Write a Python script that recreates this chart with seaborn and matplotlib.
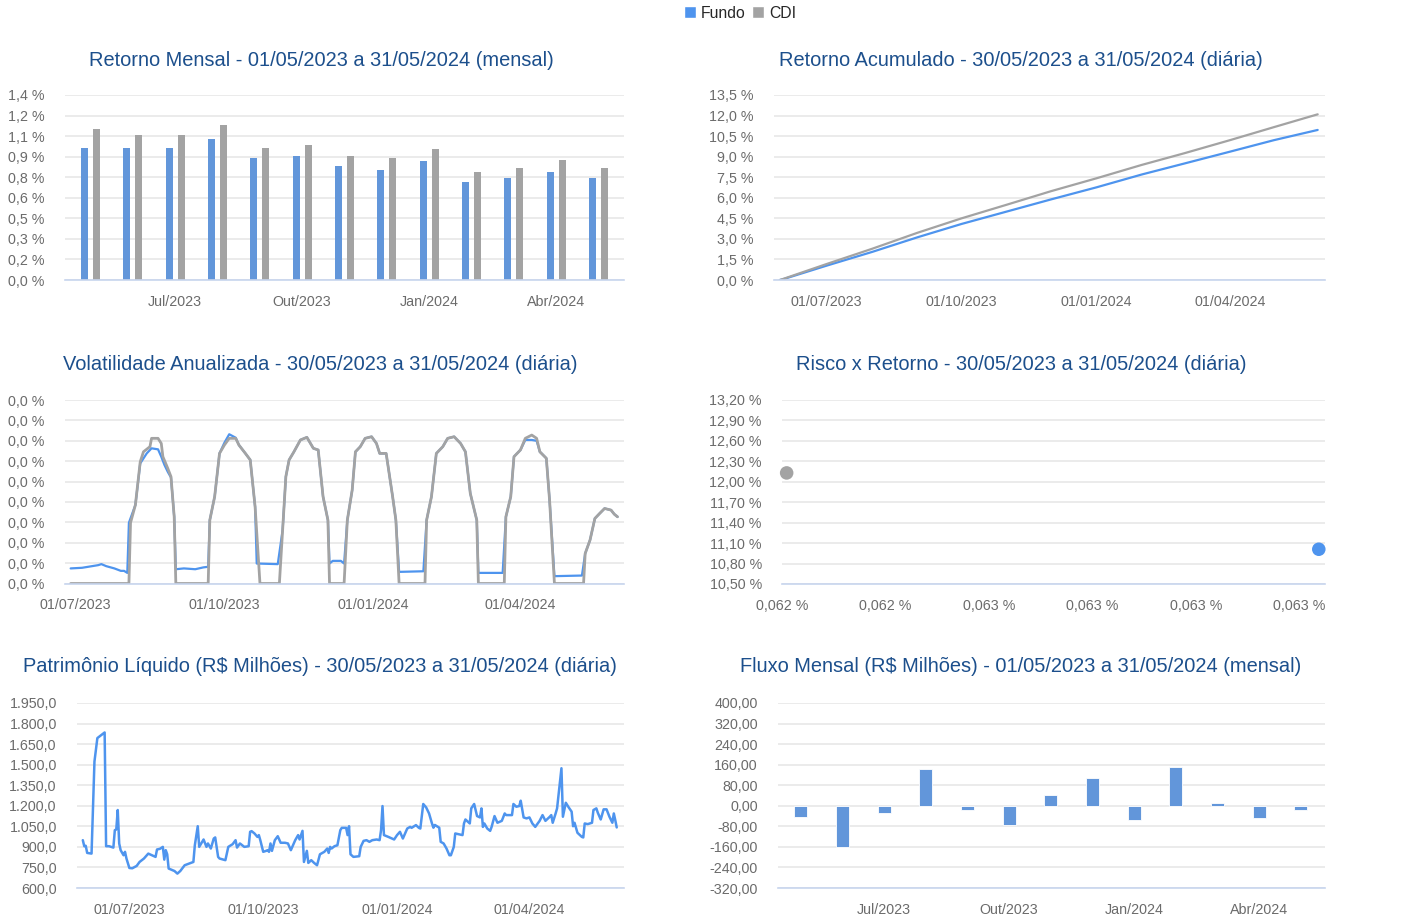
import numpy as np
import pandas as pd
import matplotlib.pyplot as plt
from matplotlib.patches import Patch
from matplotlib.ticker import FuncFormatter
import matplotlib.dates as mdates
import seaborn as sns

sns.set_style("white")
plt.rcParams["font.family"] = ["Liberation Sans", "DejaVu Sans"]

AZUL = "#4e94ee"
CINZA = "#a3a3a3"
COR_TITULO = "#1c4f8c"
COR_TEXTO = "#6b6b6b"
COR_EIXO = "#c7d5ee"

# ------------------------------------------------------------
# dados
# ------------------------------------------------------------
meses = ["05/2023", "06/2023", "07/2023", "08/2023", "09/2023", "10/2023", "11/2023",
         "12/2023", "01/2024", "02/2024", "03/2024", "04/2024", "05/2024"]
marcas_meses = ["07/2023", "10/2023", "01/2024", "04/2024"]
rotulos_meses = ["Jul/2023", "Out/2023", "Jan/2024", "Abr/2024"]

ret_fundo = [1.00, 1.00, 1.00, 1.07, 0.92, 0.94, 0.86, 0.83, 0.90, 0.74, 0.77, 0.82, 0.77]
ret_cdi = [1.14, 1.10, 1.10, 1.17, 1.00, 1.02, 0.94, 0.92, 0.99, 0.82, 0.85, 0.91, 0.85]

fluxo = [-44, -162, -28, 144, -18, -75, 43, 109, -54, 149, 12, -49, -18]

acum_datas = ["2023-05-30", "2023-06-01", "2023-07-01", "2023-08-01", "2023-09-01",
              "2023-10-01", "2023-11-01", "2023-12-01", "2024-01-01", "2024-02-01",
              "2024-03-01", "2024-04-01", "2024-05-01", "2024-05-31"]
acum_fundo = [0.0, 0.05, 1.05, 2.05, 3.12, 4.09, 5.00, 5.88, 6.76, 7.70, 8.50, 9.36, 10.20, 10.95]
acum_cdi = [0.0, 0.07, 1.17, 2.28, 3.45, 4.50, 5.50, 6.48, 7.42, 8.40, 9.25, 10.20, 11.15, 12.09]

# risco x retorno (Fundo, CDI)
series_rr = ["Fundo", "CDI"]
risco = [0.063237, 0.062209]
retorno = [11.01, 12.13]

# volatilidade anualizada, em milesimos de %
vol_fundo = [
    ("2023-06-28", 0.74), ("2023-07-05", 0.77), ("2023-07-15", 0.90), ("2023-07-17", 0.95),
    ("2023-07-20", 0.85), ("2023-07-25", 0.74), ("2023-07-29", 0.62), ("2023-07-31", 0.62),
    ("2023-08-02", 0.52), ("2023-08-03", 2.98), ("2023-08-07", 3.85), ("2023-08-10", 5.89),
    ("2023-08-14", 6.38), ("2023-08-17", 6.63), ("2023-08-21", 6.58), ("2023-08-23", 6.22),
    ("2023-08-25", 5.81), ("2023-08-27", 5.48), ("2023-08-29", 5.20), ("2023-08-31", 3.27),
    ("2023-09-01", 0.70), ("2023-09-06", 0.74), ("2023-09-13", 0.70), ("2023-09-18", 0.79),
    ("2023-09-21", 0.82), ("2023-09-22", 3.11), ("2023-09-25", 4.26), ("2023-09-28", 6.38),
    ("2023-10-01", 6.90), ("2023-10-04", 7.32), ("2023-10-08", 7.15), ("2023-10-10", 6.79),
    ("2023-10-14", 6.38), ("2023-10-17", 6.06), ("2023-10-20", 3.76), ("2023-10-21", 0.98),
    ("2023-11-03", 0.95), ("2023-11-06", 2.62), ("2023-11-08", 5.24), ("2023-11-10", 6.06),
    ("2023-11-13", 6.46), ("2023-11-17", 7.04), ("2023-11-21", 7.17), ("2023-11-25", 6.63),
    ("2023-11-28", 6.55), ("2023-12-01", 4.26), ("2023-12-04", 3.11), ("2023-12-05", 0.98),
    ("2023-12-07", 1.11), ("2023-12-12", 1.11), ("2023-12-14", 0.98), ("2023-12-16", 3.11),
    ("2023-12-19", 4.58), ("2023-12-21", 6.46), ("2023-12-24", 6.71), ("2023-12-27", 7.12),
    ("2023-12-31", 7.20), ("2024-01-03", 6.87), ("2024-01-05", 6.38), ("2024-01-09", 6.38),
    ("2024-01-13", 4.26), ("2024-01-15", 3.11), ("2024-01-17", 0.57), ("2024-02-01", 0.60),
    ("2024-02-03", 3.11), ("2024-02-06", 4.26), ("2024-02-09", 6.38), ("2024-02-13", 6.71),
    ("2024-02-16", 7.12), ("2024-02-20", 7.20), ("2024-02-24", 6.87), ("2024-02-27", 6.46),
    ("2024-03-01", 4.42), ("2024-03-05", 3.11), ("2024-03-06", 0.52), ("2024-03-21", 0.52),
    ("2024-03-23", 3.27), ("2024-03-26", 4.26), ("2024-03-28", 6.22), ("2024-04-01", 6.55),
    ("2024-04-04", 7.04), ("2024-04-08", 7.04), ("2024-04-11", 7.00), ("2024-04-13", 6.46),
    ("2024-04-17", 6.14), ("2024-04-19", 4.09), ("2024-04-22", 0.36), ("2024-05-09", 0.39),
    ("2024-05-11", 1.47), ("2024-05-14", 2.13), ("2024-05-17", 3.19), ("2024-05-20", 3.44),
    ("2024-05-23", 3.68), ("2024-05-27", 3.60), ("2024-05-29", 3.40), ("2024-05-31", 3.27),
]
vol_cdi = [
    ("2023-06-28", 0.0), ("2023-08-03", 0.0), ("2023-08-04", 2.98), ("2023-08-07", 3.85),
    ("2023-08-10", 5.97), ("2023-08-12", 6.46), ("2023-08-16", 6.71), ("2023-08-17", 7.12),
    ("2023-08-21", 7.12), ("2023-08-23", 6.87), ("2023-08-24", 6.22), ("2023-08-27", 5.65),
    ("2023-08-29", 5.24), ("2023-08-31", 3.27), ("2023-09-01", 0.0),
    ("2023-09-21", 0.0), ("2023-09-22", 3.11), ("2023-09-25", 4.26), ("2023-09-28", 6.38),
    ("2023-10-01", 6.79), ("2023-10-04", 7.12), ("2023-10-08", 7.12), ("2023-10-10", 6.79),
    ("2023-10-14", 6.38), ("2023-10-17", 6.06), ("2023-10-20", 3.76), ("2023-10-23", 0.0),
    ("2023-11-04", 0.0), ("2023-11-06", 2.62), ("2023-11-08", 5.24), ("2023-11-10", 6.06),
    ("2023-11-13", 6.46), ("2023-11-17", 7.04), ("2023-11-21", 7.17), ("2023-11-25", 6.63),
    ("2023-11-28", 6.55), ("2023-12-01", 4.26), ("2023-12-04", 3.11), ("2023-12-05", 0.0),
    ("2023-12-14", 0.0), ("2023-12-16", 3.11), ("2023-12-19", 4.58), ("2023-12-21", 6.46),
    ("2023-12-24", 6.71), ("2023-12-27", 7.12), ("2023-12-31", 7.20), ("2024-01-03", 6.87),
    ("2024-01-05", 6.38), ("2024-01-09", 6.38), ("2024-01-13", 4.26), ("2024-01-15", 3.11),
    ("2024-01-17", 0.0),
    ("2024-02-02", 0.0), ("2024-02-03", 3.11), ("2024-02-06", 4.26), ("2024-02-09", 6.38),
    ("2024-02-13", 6.71), ("2024-02-16", 7.12), ("2024-02-20", 7.20), ("2024-02-24", 6.87),
    ("2024-02-27", 6.46), ("2024-03-01", 4.42), ("2024-03-05", 3.11), ("2024-03-06", 0.0),
    ("2024-03-22", 0.0), ("2024-03-23", 3.27), ("2024-03-26", 4.26), ("2024-03-28", 6.22),
    ("2024-04-01", 6.55), ("2024-04-04", 7.12), ("2024-04-08", 7.28), ("2024-04-11", 7.12),
    ("2024-04-13", 6.46), ("2024-04-17", 6.14), ("2024-04-19", 4.09), ("2024-04-22", 0.0),
    ("2024-05-10", 0.0), ("2024-05-11", 1.47), ("2024-05-14", 2.13), ("2024-05-17", 3.19),
    ("2024-05-20", 3.44), ("2024-05-23", 3.68), ("2024-05-27", 3.60), ("2024-05-29", 3.40),
    ("2024-05-31", 3.27),
]

# patrimonio liquido (R$ milhoes)
pl = [
    ("2023-05-30", 949), ("2023-05-31", 905), ("2023-06-01", 908), ("2023-06-02", 856),
    ("2023-06-05", 851), ("2023-06-07", 1523), ("2023-06-09", 1694), ("2023-06-12", 1718),
    ("2023-06-14", 1735), ("2023-06-15", 905), ("2023-06-17", 905), ("2023-06-20", 895),
    ("2023-06-21", 1022), ("2023-06-22", 1027), ("2023-06-23", 1169), ("2023-06-24", 925),
    ("2023-06-25", 876), ("2023-06-27", 839), ("2023-06-28", 864), ("2023-06-29", 815),
    ("2023-07-01", 746), ("2023-07-03", 744), ("2023-07-06", 761), ("2023-07-08", 790),
    ("2023-07-11", 815), ("2023-07-14", 851), ("2023-07-19", 827), ("2023-07-20", 881),
    ("2023-07-22", 886), ("2023-07-24", 900), ("2023-07-25", 807), ("2023-07-26", 876),
    ("2023-07-27", 846), ("2023-07-28", 742), ("2023-08-01", 724), ("2023-08-03", 705),
    ("2023-08-05", 724), ("2023-08-08", 766), ("2023-08-11", 778), ("2023-08-14", 790),
    ("2023-08-15", 912), ("2023-08-17", 1051), ("2023-08-18", 900), ("2023-08-20", 937),
    ("2023-08-21", 954), ("2023-08-23", 900), ("2023-08-24", 925), ("2023-08-26", 888),
    ("2023-08-28", 961), ("2023-08-29", 969), ("2023-08-31", 827), ("2023-09-01", 815),
    ("2023-09-05", 803), ("2023-09-07", 900), ("2023-09-10", 920), ("2023-09-12", 949),
    ("2023-09-13", 895), ("2023-09-15", 925), ("2023-09-18", 900), ("2023-09-21", 905),
    ("2023-09-22", 1010), ("2023-09-23", 1015), ("2023-09-25", 998), ("2023-09-27", 973),
    ("2023-09-28", 986), ("2023-09-29", 949), ("2023-10-01", 864), ("2023-10-03", 871),
    ("2023-10-04", 876), ("2023-10-05", 864), ("2023-10-06", 925), ("2023-10-07", 871),
    ("2023-10-09", 949), ("2023-10-11", 978), ("2023-10-13", 930), ("2023-10-16", 930),
    ("2023-10-18", 925), ("2023-10-20", 876), ("2023-10-23", 949), ("2023-10-25", 986),
    ("2023-10-26", 954), ("2023-10-28", 1017), ("2023-10-29", 790), ("2023-10-30", 832),
    ("2023-10-31", 871), ("2023-11-01", 783), ("2023-11-03", 803), ("2023-11-05", 783),
    ("2023-11-07", 766), ("2023-11-09", 846), ("2023-11-12", 864), ("2023-11-14", 888),
    ("2023-11-15", 856), ("2023-11-16", 900), ("2023-11-17", 888), ("2023-11-19", 905),
    ("2023-11-21", 912), ("2023-11-23", 1022), ("2023-11-24", 1039), ("2023-11-27", 1039),
    ("2023-11-28", 986), ("2023-11-29", 1051), ("2023-11-30", 846), ("2023-12-02", 827),
    ("2023-12-06", 832), ("2023-12-07", 900), ("2023-12-09", 944), ("2023-12-11", 949),
    ("2023-12-13", 937), ("2023-12-15", 949), ("2023-12-18", 954), ("2023-12-20", 949),
    ("2023-12-21", 1022), ("2023-12-22", 1198), ("2023-12-23", 986), ("2023-12-26", 973),
    ("2023-12-30", 954), ("2024-01-01", 986), ("2024-01-03", 1010), ("2024-01-05", 961),
    ("2024-01-08", 1034), ("2024-01-10", 1046), ("2024-01-11", 1039), ("2024-01-14", 1059),
    ("2024-01-16", 1039), ("2024-01-17", 1034), ("2024-01-19", 1213), ("2024-01-21", 1188),
    ("2024-01-23", 1144), ("2024-01-25", 1071), ("2024-01-26", 1040), ("2024-01-27", 1060),
    ("2024-01-30", 1040), ("2024-01-31", 937), ("2024-02-02", 925), ("2024-02-04", 888),
    ("2024-02-06", 839), ("2024-02-07", 839), ("2024-02-09", 900), ("2024-02-10", 998),
    ("2024-02-15", 986), ("2024-02-16", 1071), ("2024-02-17", 1100), ("2024-02-20", 1071),
    ("2024-02-21", 1181), ("2024-02-23", 1213), ("2024-02-25", 1125), ("2024-02-27", 1115),
    ("2024-02-28", 1181), ("2024-02-29", 1046), ("2024-03-01", 1071), ("2024-03-03", 1034),
    ("2024-03-05", 1017), ("2024-03-06", 1046), ("2024-03-08", 1125), ("2024-03-10", 1076),
    ("2024-03-13", 1090), ("2024-03-15", 1144), ("2024-03-16", 1132), ("2024-03-20", 1132),
    ("2024-03-21", 1213), ("2024-03-23", 1193), ("2024-03-25", 1198), ("2024-03-26", 1237),
    ("2024-03-28", 1115), ("2024-03-30", 1108), ("2024-04-01", 1115), ("2024-04-03", 1071),
    ("2024-04-05", 1046), ("2024-04-08", 1090), ("2024-04-10", 1132), ("2024-04-12", 1090),
    ("2024-04-15", 1120), ("2024-04-16", 1132), ("2024-04-17", 1076), ("2024-04-19", 1144),
    ("2024-04-20", 1181), ("2024-04-23", 1474), ("2024-04-24", 1120), ("2024-04-26", 1222),
    ("2024-04-28", 1188), ("2024-04-30", 1157), ("2024-05-01", 1051), ("2024-05-02", 1076),
    ("2024-05-04", 1003), ("2024-05-07", 973), ("2024-05-08", 969), ("2024-05-09", 1071),
    ("2024-05-11", 1066), ("2024-05-14", 1076), ("2024-05-15", 1169), ("2024-05-17", 1181),
    ("2024-05-18", 1149), ("2024-05-20", 1100), ("2024-05-22", 1174), ("2024-05-24", 1174),
    ("2024-05-26", 1120), ("2024-05-28", 1076), ("2024-05-29", 1144), ("2024-05-30", 1095),
    ("2024-05-31", 1042),
]

marcas_datas = ["2023-07-01", "2023-10-01", "2024-01-01", "2024-04-01"]

titulos = [
    "Retorno Mensal - 01/05/2023 a 31/05/2024 (mensal)",
    "Retorno Acumulado - 30/05/2023 a 31/05/2024 (diária)",
    "Volatilidade Anualizada - 30/05/2023 a 31/05/2024 (diária)",
    "Risco x Retorno - 30/05/2023 a 31/05/2024 (diária)",
    "Patrimônio Líquido (R$ Milhões) - 30/05/2023 a 31/05/2024 (diária)",
    "Fluxo Mensal (R$ Milhões) - 01/05/2023 a 31/05/2024 (mensal)",
]

# ------------------------------------------------------------
# figura
# ------------------------------------------------------------
W, H = 1404, 918
fig = plt.figure(figsize=(W / 100, H / 100), dpi=100)


def caixa(x0, x1, y0, y1):
    return [x0 / W, 1 - y1 / H, (x1 - x0) / W, (y1 - y0) / H]


def estilo(ax, ticks, fmt):
    ax.set_ylim(ticks[0], ticks[-1])
    ax.set_yticks(ticks)
    ax.yaxis.set_major_formatter(FuncFormatter(fmt))
    ax.grid(axis="y", color="#e6e6e6", lw=1.1)
    ax.grid(axis="x", visible=False)
    ax.set_axisbelow(True)
    for s in ["top", "right", "left"]:
        ax.spines[s].set_visible(False)
    ax.spines["bottom"].set_color(COR_EIXO)
    ax.spines["bottom"].set_linewidth(1.2)
    ax.tick_params(axis="y", length=0, pad=14.5, labelcolor=COR_TEXTO, labelsize=10.3)
    ax.tick_params(axis="x", length=9, width=1, color=COR_EIXO, pad=1.5,
                   labelcolor=COR_TEXTO, labelsize=10.3)
    ax.set_xlabel("")
    ax.set_ylabel("")


def eixo_datas(ax):
    ax.set_xlim(pd.Timestamp("2023-05-26"), pd.Timestamp("2024-06-05"))
    ax.set_xticks(pd.to_datetime(marcas_datas))
    ax.xaxis.set_major_formatter(mdates.DateFormatter("%d/%m/%Y"))


def virgula(casas, div=1):
    return lambda v, p: f"{v / div:.{casas}f} %".replace(".", ",")


# 1) retorno mensal
ax1 = fig.add_axes(caixa(65, 624, 95, 280))
df_ret = pd.DataFrame({
    "mes": meses * 2,
    "serie": ["Fundo"] * len(meses) + ["CDI"] * len(meses),
    "valor": ret_fundo + ret_cdi,
})
sns.barplot(data=df_ret, x="mes", y="valor", hue="serie", order=meses,
            hue_order=["Fundo", "CDI"], palette=[AZUL, CINZA], width=0.57, gap=0.42,
            linewidth=0, legend=False, ax=ax1)
ax1.set_xlim(-0.6, 12.6)
ax1.set_xticks([meses.index(m) for m in marcas_meses])
ax1.set_xticklabels(rotulos_meses)
estilo(ax1, np.linspace(0, 1.4, 10), virgula(1))

# 2) retorno acumulado
ax2 = fig.add_axes(caixa(774, 1325, 95, 280))
datas_acum = pd.to_datetime(acum_datas)
sns.lineplot(x=datas_acum, y=acum_fundo, color=AZUL, lw=1.6, ax=ax2)
sns.lineplot(x=datas_acum, y=acum_cdi, color=CINZA, lw=1.6, ax=ax2)
eixo_datas(ax2)
estilo(ax2, np.linspace(0, 13.5, 10), virgula(1))

# 3) volatilidade
ax3 = fig.add_axes(caixa(65, 624, 400, 583.5))
df_vf = pd.DataFrame(vol_fundo, columns=["data", "vol"])
df_vc = pd.DataFrame(vol_cdi, columns=["data", "vol"])
df_vf["data"] = pd.to_datetime(df_vf["data"])
df_vc["data"] = pd.to_datetime(df_vc["data"])
sns.lineplot(data=df_vf, x="data", y="vol", color=AZUL, lw=1.6, estimator=None, sort=False, ax=ax3)
sns.lineplot(data=df_vc, x="data", y="vol", color=CINZA, lw=2.0, estimator=None, sort=False, ax=ax3)
ax3.set_xlim(pd.Timestamp("2023-06-24 12:00"), pd.Timestamp("2024-06-04"))
ax3.set_xticks(pd.to_datetime(marcas_datas))
ax3.xaxis.set_major_formatter(mdates.DateFormatter("%d/%m/%Y"))
estilo(ax3, np.linspace(0, 9, 10), virgula(1, 1000))

# 4) risco x retorno
ax4 = fig.add_axes(caixa(782, 1325, 400, 584))
sns.scatterplot(x=risco, y=retorno, hue=series_rr, palette=[AZUL, CINZA], s=95,
                linewidth=0, legend=False, ax=ax4, clip_on=False, zorder=3)
ax4.set_xlim(0.0622, 0.063249)
ax4.set_xticks(np.linspace(0.0622, 0.0632, 6))
ax4.xaxis.set_major_formatter(FuncFormatter(virgula(3)))
estilo(ax4, np.linspace(10.5, 13.2, 10), virgula(2))

# 5) patrimonio liquido
ax5 = fig.add_axes(caixa(77, 624, 703, 888))
df_pl = pd.DataFrame(pl, columns=["data", "valor"])
df_pl["data"] = pd.to_datetime(df_pl["data"])
sns.lineplot(data=df_pl, x="data", y="valor", color=AZUL, lw=1.8, estimator=None, sort=False, ax=ax5)
eixo_datas(ax5)
estilo(ax5, np.arange(600, 1951, 150),
       lambda v, p: f"{v:,.1f}".replace(",", "X").replace(".", ",").replace("X", "."))

# 6) fluxo mensal
ax6 = fig.add_axes(caixa(778, 1325, 703, 888))
sns.barplot(x=meses, y=fluxo, order=meses, color=AZUL, width=0.31,
            edgecolor="white", linewidth=0.6, ax=ax6)
ax6.set_xlim(-0.55, 12.58)
ax6.set_xticks([meses.index(m) for m in marcas_meses])
ax6.set_xticklabels(rotulos_meses)
estilo(ax6, np.arange(-320, 401, 80), lambda v, p: f"{v:.2f}".replace(".", ","))

# titulos
centros = [(321, 60), (1021, 60), (320, 364), (1021, 364), (320, 667), (1021, 667)]
for (cx, cy), tit in zip(centros, titulos):
    fig.text(cx / W, 1 - cy / H, tit, ha="center", va="center", fontsize=14.4, color=COR_TITULO)

# legenda geral
fig.legend(handles=[Patch(facecolor=AZUL, label="Fundo"), Patch(facecolor=CINZA, label="CDI")],
           loc="center", bbox_to_anchor=(740 / W, 1 - 13 / H), ncol=2, frameon=False,
           fontsize=11.3, handlelength=0.75, handleheight=0.75, handletextpad=0.3,
           columnspacing=0.45, borderpad=0)

fig.savefig("out.png", dpi=100)
